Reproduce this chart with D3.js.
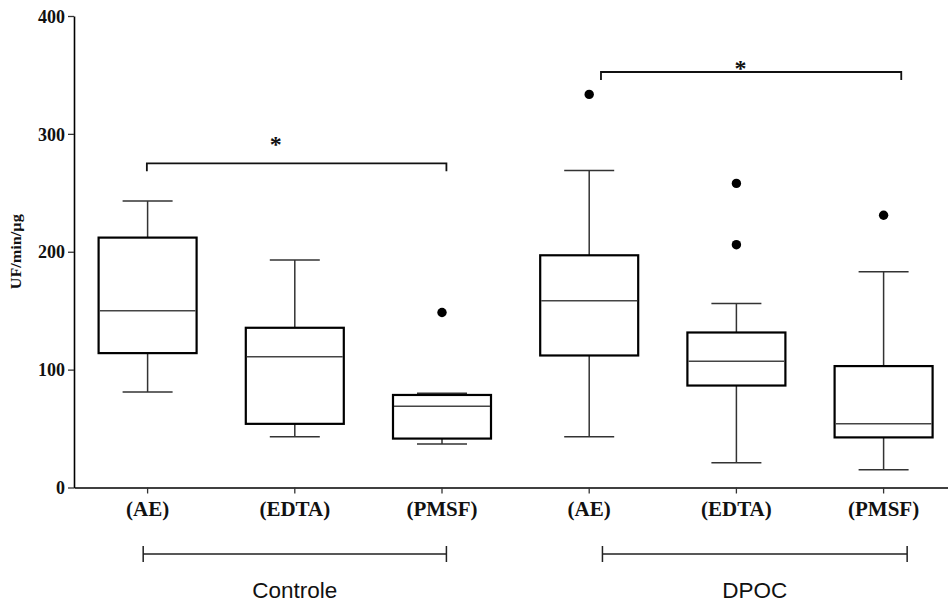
<!DOCTYPE html>
<html lang="en">
<head>
<meta charset="UTF-8">
<title>UF/min/µg boxplot</title>
<style>
  body { margin: 0; background: #fff; }
  .tick-label { font-family: "Liberation Serif", "Times New Roman", serif; font-weight: bold; fill: #111; }
</style>
</head>
<body>
<div id="chart"></div>
<script src="https://d3js.org/d3.v7.min.js"></script>
<script>
const categories = ['(AE)', '(EDTA)', '(PMSF)', '(AE)', '(EDTA)', '(PMSF)']
const groupOf = ['Controle', 'Controle', 'Controle', 'DPOC', 'DPOC', 'DPOC']
const groups = ['Controle', 'DPOC']
const yTicks = [0, 100, 200, 300, 400]

// box statistics
const whiskerLow = [81, 43, 37, 43, 21, 15]
const q1 = [114, 54, 41.5, 112, 86.5, 42.5]
const median = [150, 111, 69, 158.5, 107, 54]
const q3 = [212, 135.5, 78.5, 197, 131.5, 103]
const whiskerHigh = [243, 193, 80, 269, 156, 183]
const outliers = [[], [], [148.5], [333.5], [258, 206], [231]]

// significance brackets (category index from/to, height in UF/min/µg)
const sigFrom = [0, 3]
const sigTo = [2, 5]
const sigLevel = [275, 352.5]
const sigLabel = ['*', '*']

const chartWidth = 948
const chartHeight = 609
const plotLeft = 74
const axisY = 487.5
const plotTop = 16

const svg = d3.select('#chart')
  .append('svg')
  .attr('width', chartWidth)
  .attr('height', chartHeight)

const ids = categories.map((c, i) => i)

const xScale = d3.scaleBand()
  .domain(ids)
  .range([plotLeft, plotLeft + 6 * 147.2])
  .padding(0)

const cx = i => xScale(i) + xScale.bandwidth() / 2
// fractional index for brackets and group lines
const xi = d3.scaleLinear().domain([0, 5]).range([cx(0), cx(5)])

const yScale = d3.scaleLinear()
  .domain([0, 400])
  .range([axisY, plotTop])

const boxW = 98
const capW = 50

// axes
const xAxis = svg.append('g')
  .attr('transform', `translate(0, ${axisY})`)
  .call(d3.axisBottom(xScale).tickSize(6).tickSizeOuter(0).tickFormat(i => categories[i]))
xAxis.select('.domain').attr('stroke', '#000').attr('stroke-width', 1.6)
xAxis.selectAll('.tick line').attr('stroke', '#333').attr('stroke-width', 1.3)
xAxis.selectAll('.tick text')
  .attr('class', 'tick-label')
  .attr('font-size', 21)
  .attr('y', 0)
  .attr('dy', 28.5)

const yAxis = svg.append('g')
  .attr('transform', `translate(${plotLeft}, 0)`)
  .call(d3.axisLeft(yScale).tickValues(yTicks).tickSize(6).tickSizeOuter(0))
yAxis.select('.domain').attr('stroke', '#000').attr('stroke-width', 1.6)
yAxis.selectAll('.tick line').attr('stroke', '#333').attr('stroke-width', 1.3)
yAxis.selectAll('.tick text')
  .attr('class', 'tick-label')
  .attr('font-size', 18)
  .attr('x', -9)
  .attr('dy', '0.34em')

svg.append('text')
  .attr('class', 'tick-label')
  .attr('transform', `translate(21, ${yScale(200)}) rotate(-90)`)
  .attr('text-anchor', 'middle')
  .attr('font-size', 14.5)
  .attr('textLength', 75)
  .attr('lengthAdjust', 'spacingAndGlyphs')
  .text('UF/min/µg')

// boxes
const box = svg.selectAll('g.box')
  .data(ids)
  .enter()
  .append('g')
  .attr('class', 'box')

box.append('line')
  .attr('x1', cx).attr('x2', cx)
  .attr('y1', i => yScale(whiskerHigh[i]))
  .attr('y2', i => yScale(q3[i]))
  .attr('stroke', '#333').attr('stroke-width', 1.5)
box.append('line')
  .attr('x1', cx).attr('x2', cx)
  .attr('y1', i => yScale(q1[i]))
  .attr('y2', i => yScale(whiskerLow[i]))
  .attr('stroke', '#333').attr('stroke-width', 1.5)
box.append('line')
  .attr('x1', i => cx(i) - capW / 2).attr('x2', i => cx(i) + capW / 2)
  .attr('y1', i => yScale(whiskerHigh[i])).attr('y2', i => yScale(whiskerHigh[i]))
  .attr('stroke', '#333').attr('stroke-width', 1.5)
box.append('line')
  .attr('x1', i => cx(i) - capW / 2).attr('x2', i => cx(i) + capW / 2)
  .attr('y1', i => yScale(whiskerLow[i])).attr('y2', i => yScale(whiskerLow[i]))
  .attr('stroke', '#333').attr('stroke-width', 1.5)
box.append('rect')
  .attr('x', i => cx(i) - boxW / 2)
  .attr('width', boxW)
  .attr('y', i => yScale(q3[i]))
  .attr('height', i => yScale(q1[i]) - yScale(q3[i]))
  .attr('fill', '#fff')
  .attr('stroke', '#000')
  .attr('stroke-width', 2.2)
box.append('line')
  .attr('x1', i => cx(i) - boxW / 2 + 1).attr('x2', i => cx(i) + boxW / 2 - 1)
  .attr('y1', i => yScale(median[i])).attr('y2', i => yScale(median[i]))
  .attr('stroke', '#444').attr('stroke-width', 1.5)

box.selectAll('circle')
  .data(i => outliers[i].map(v => ({ i, v })))
  .enter()
  .append('circle')
  .attr('cx', d => cx(d.i))
  .attr('cy', d => yScale(d.v))
  .attr('r', 4.7)
  .attr('fill', '#000')

// significance brackets
const bracketEnds = [[-0.005, 2.03], [3.08, 5.12]]
const starPos = [0.43, 0.465]
const starDy = [-11, 4.5]
sigFrom.forEach((f, k) => {
  const x1 = xi(bracketEnds[k][0])
  const x2 = xi(bracketEnds[k][1])
  const y = yScale(sigLevel[k])
  svg.append('path')
    .attr('d', `M${x1},${y + 8}V${y}H${x2}V${y + 8}`)
    .attr('fill', 'none')
    .attr('stroke', '#111')
    .attr('stroke-width', 1.8)
  svg.append('text')
    .attr('class', 'tick-label')
    .attr('x', x1 + (x2 - x1) * starPos[k])
    .attr('y', y + starDy[k])
    .attr('text-anchor', 'middle')
    .attr('font-size', 24)
    .text(sigLabel[k])
})

// group lines under the axis
const groupEnds = [[-0.03, 2.03], [3.09, 5.16]]
const groupLineY = 554
groups.forEach((g, k) => {
  const x1 = xi(groupEnds[k][0])
  const x2 = xi(groupEnds[k][1])
  svg.append('path')
    .attr('d', `M${x1},${groupLineY - 8}V${groupLineY + 8}M${x1},${groupLineY}H${x2}M${x2},${groupLineY - 8}V${groupLineY + 8}`)
    .attr('fill', 'none')
    .attr('stroke', '#222')
    .attr('stroke-width', 1.5)
  svg.append('text')
    .attr('x', (x1 + x2) / 2)
    .attr('y', 598)
    .attr('text-anchor', 'middle')
    .attr('font-family', '"Liberation Sans", Arial, sans-serif')
    .attr('font-size', 22.5)
    .attr('fill', '#111')
    .text(g)
})
</script>
</body>
</html>
